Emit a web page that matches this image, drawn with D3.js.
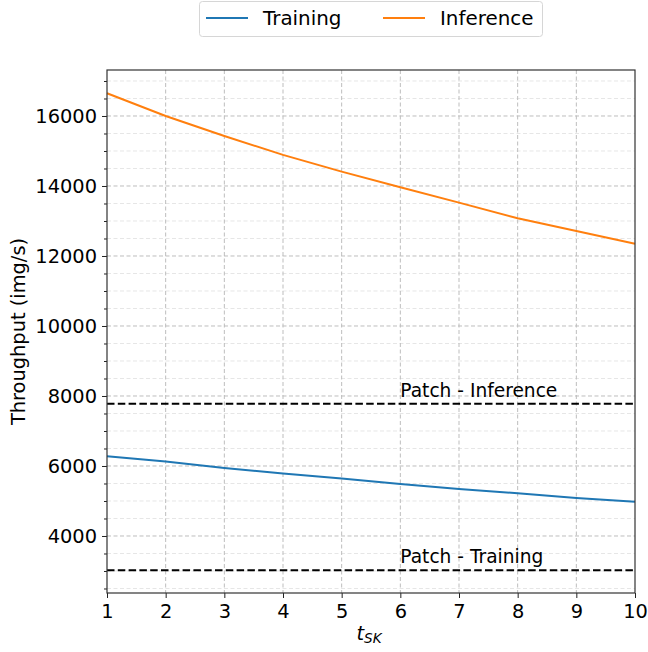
<!DOCTYPE html>
<html>
<head>
<meta charset="utf-8">
<script src="https://cdn.jsdelivr.net/npm/d3@7"></script>
<style>
  body { margin: 0; background: #fff; }
  svg { display: block; font-family: "DejaVu Sans", sans-serif; }
</style>
</head>
<body>
<svg width="648" height="652"></svg>
<script>
const tValues = [1, 2, 3, 4, 5, 6, 7, 8, 9, 10];
const training = [6280, 6125, 5945, 5785, 5645, 5485, 5345, 5220, 5088, 4975];
const inference = [16650, 16000, 15430, 14888, 14410, 13962, 13524, 13076, 12714, 12352];
const patchTraining = 3020;
const patchInference = 7780;
const xTicks = [1, 2, 3, 4, 5, 6, 7, 8, 9, 10];
const yTicks = [4000, 6000, 8000, 10000, 12000, 14000, 16000];

const svg = d3.select("svg");
const plotL = 107, plotR = 635, plotT = 70, plotB = 593;

const x = d3.scaleLinear().domain([1, 10]).range([plotL, plotR]);
const y = d3.scaleLinear().domain([2371, 17314]).range([plotB, plotT]);

const yMinor = d3.range(2500, 17500, 500).filter(v => v % 2000 !== 0);

// grid: minor horizontal first, then major
const grid = svg.append("g");
grid.selectAll(".ymin").data(yMinor).join("line")
  .attr("x1", plotL).attr("x2", plotR)
  .attr("y1", d => y(d)).attr("y2", d => y(d))
  .attr("stroke", "#e3e3e3").attr("stroke-width", 0.9)
  .attr("stroke-dasharray", "4,2.5");
grid.selectAll(".ymaj").data(yTicks).join("line")
  .attr("x1", plotL).attr("x2", plotR)
  .attr("y1", d => y(d)).attr("y2", d => y(d))
  .attr("stroke", "#bdbdbd").attr("stroke-width", 1)
  .attr("stroke-dasharray", "4,2.5");
grid.selectAll(".xmaj").data(xTicks.slice(1, -1)).join("line")
  .attr("x1", d => x(d)).attr("x2", d => x(d))
  .attr("y1", plotT).attr("y2", plotB)
  .attr("stroke", "#bdbdbd").attr("stroke-width", 1)
  .attr("stroke-dasharray", "4,2.5");

// patch reference lines
[patchTraining, patchInference].forEach(v => {
  svg.append("line")
    .attr("x1", plotL).attr("x2", plotR)
    .attr("y1", y(v)).attr("y2", y(v))
    .attr("stroke", "#000").attr("stroke-width", 2)
    .attr("stroke-dasharray", "7.5,3.3");
});
svg.append("text").attr("x", x(6)).attr("y", y(patchInference + 200))
  .attr("font-size", 18.6).attr("fill", "#000").text("Patch - Inference");
svg.append("text").attr("x", x(6)).attr("y", y(patchTraining + 200))
  .attr("font-size", 18.6).attr("fill", "#000").text("Patch - Training");

// series
const line = d3.line().x((d, i) => x(tValues[i])).y(d => y(d));
svg.append("path").datum(training).attr("d", line)
  .attr("fill", "none").attr("stroke", "#1f77b4").attr("stroke-width", 2);
svg.append("path").datum(inference).attr("d", line)
  .attr("fill", "none").attr("stroke", "#ff7f0e").attr("stroke-width", 2);

// axes
const xAxis = svg.append("g").attr("transform", `translate(0,${plotB})`)
  .call(d3.axisBottom(x).tickValues(xTicks).tickFormat(d3.format("d")).tickSize(5).tickPadding(6));
const yAxis = svg.append("g").attr("transform", `translate(${plotL},0)`)
  .call(d3.axisLeft(y).tickValues(yTicks).tickFormat(d3.format("d")).tickSize(5).tickPadding(5));
svg.append("g").attr("transform", `translate(${plotL},0)`)
  .call(d3.axisLeft(y).tickValues(yMinor).tickFormat("").tickSize(3))
  .call(g => g.select(".domain").remove());

[xAxis, yAxis].forEach(g => {
  g.selectAll("text").attr("font-size", 19.4).attr("fill", "#000")
    .attr("font-family", "DejaVu Sans");
  g.select(".domain").remove();
});
svg.selectAll(".tick line").attr("stroke", "#222");

// frame
svg.append("rect").attr("x", plotL).attr("y", plotT)
  .attr("width", plotR - plotL).attr("height", plotB - plotT)
  .attr("fill", "none").attr("stroke", "#333").attr("stroke-width", 1.2);

// axis labels
const xl = svg.append("text").attr("x", (plotL + plotR) / 2 - 2).attr("y", 640)
  .attr("text-anchor", "middle").attr("fill", "#000");
xl.append("tspan").attr("font-size", 19.4).attr("font-style", "italic").text("t");
xl.append("tspan").attr("font-size", 13.6).attr("font-style", "italic").attr("dy", 3).text("SK");

svg.append("text")
  .attr("transform", `translate(25,${(plotT + plotB) / 2}) rotate(-90)`)
  .attr("text-anchor", "middle").attr("font-size", 19.4).attr("fill", "#000")
  .text("Throughput (img/s)");

// legend
const legend = svg.append("g");
legend.append("rect").attr("x", 199.5).attr("y", 1.5).attr("width", 343).attr("height", 35)
  .attr("rx", 3).attr("fill", "#fff").attr("stroke", "#d6d6d6");
const items = [
  { label: "Training", color: "#1f77b4", x0: 206 },
  { label: "Inference", color: "#ff7f0e", x0: 383 }
];
items.forEach(it => {
  legend.append("line").attr("x1", it.x0).attr("x2", it.x0 + 42)
    .attr("y1", 18).attr("y2", 18).attr("stroke", it.color).attr("stroke-width", 2);
  legend.append("text").attr("x", it.x0 + 57).attr("y", 25)
    .attr("font-size", 19.9).attr("fill", "#000").text(it.label);
});
</script>
</body>
</html>
